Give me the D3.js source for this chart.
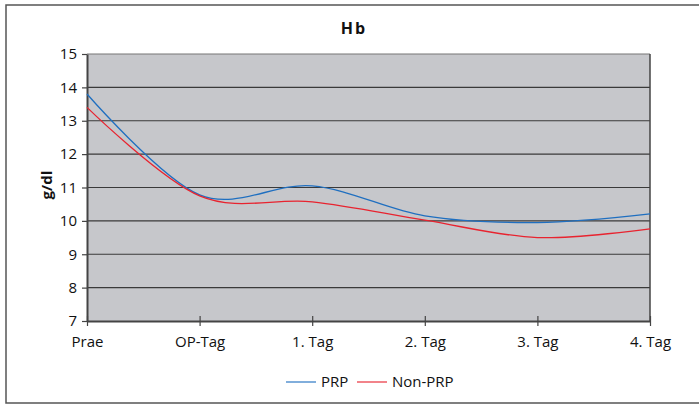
<!DOCTYPE html>
<html>
<head>
<meta charset="utf-8">
<script src="https://cdn.jsdelivr.net/npm/d3@7"></script>
<style>
  body { margin: 0; background: #fff; }
  svg { display: block; font-family: "Open Sans", sans-serif; }
</style>
</head>
<body>
<svg id="chart" width="699" height="405"></svg>
<script>
/* Hb chart */

const categories = ["Prae", "OP-Tag", "1. Tag", "2. Tag", "3. Tag", "4. Tag"];
const prpValues = [13.8, 10.78, 11.05, 10.15, 9.95, 10.21];
const nonPrpValues = [13.4, 10.75, 10.57, 10.02, 9.5, 9.76];
const yTicks = [7, 8, 9, 10, 11, 12, 13, 14, 15];

const series = [
	{ name: "PRP", values: prpValues, color: "#1f6fc0" },
	{ name: "Non-PRP", values: nonPrpValues, color: "#e8232f" }
];

const svg = d3.select("#chart");

// Rahmen (rechte Kante liegt außerhalb)
svg.append("rect")
	.attr("x", 6).attr("y", 5)
	.attr("width", 720).attr("height", 398)
	.attr("fill", "none")
	.attr("stroke", "#555")
	.attr("stroke-width", 1.5);

const plot = { left: 87, right: 650, top: 54, bottom: 321 };

const x = d3.scalePoint().domain(categories).range([plot.left, plot.right]);
const y = d3.scaleLinear().domain([7, 15]).range([plot.bottom, plot.top]);

// Hintergrund
svg.append("rect")
	.attr("x", plot.left).attr("y", plot.top)
	.attr("width", plot.right - plot.left).attr("height", plot.bottom - plot.top)
	.attr("fill", "#c6c7cb");

// Gitterlinien
svg.append("g").selectAll("line").data(yTicks.slice(1)).enter()
	.append("line")
	.attr("x1", plot.left).attr("x2", plot.right)
	.attr("y1", d => y(d)).attr("y2", d => y(d))
	.attr("stroke", d => d === 15 ? "#777" : "#3a3a3a")
	.attr("stroke-width", 1.2);

// rechte Kante
svg.append("line")
	.attr("x1", plot.right).attr("x2", plot.right)
	.attr("y1", plot.top).attr("y2", plot.bottom)
	.attr("stroke", "#444").attr("stroke-width", 1.5);

// Y-Achse
const yAxis = svg.append("g")
	.attr("transform", `translate(${plot.left},0)`)
	.call(d3.axisLeft(y).tickValues(yTicks).tickSize(5).tickPadding(5).tickSizeOuter(0));
yAxis.select(".domain").attr("stroke", "#444").attr("stroke-width", 2);
yAxis.selectAll(".tick line").attr("stroke", "#444").attr("stroke-width", 1.2);
yAxis.selectAll("text").attr("font-size", "15px").attr("fill", "#111")
	.attr("font-family", "Open Sans, sans-serif");

// X-Achse
const xAxis = svg.append("g")
	.attr("transform", `translate(0,${plot.bottom})`)
	.call(d3.axisBottom(x).tickSize(5).tickPadding(10).tickSizeOuter(0));
xAxis.select(".domain").attr("stroke", "#444").attr("stroke-width", 2);
xAxis.selectAll(".tick line").attr("y1", -5).attr("stroke", "#444").attr("stroke-width", 1.2);
xAxis.selectAll("text").attr("font-size", "15px").attr("fill", "#111")
	.attr("font-family", "Open Sans, sans-serif");

// Linien
const line = d3.line()
	.x((d, i) => x(categories[i]))
	.y(d => y(d))
	.curve(d3.curveCardinal.tension(0));

svg.append("g").selectAll("path").data(series).enter()
	.append("path")
	.attr("d", d => line(d.values))
	.attr("fill", "none")
	.attr("stroke", d => d.color)
	.attr("stroke-width", 1.3);

// Titel
svg.append("text")
	.attr("x", 354).attr("y", 34)
	.attr("text-anchor", "middle")
	.attr("font-size", "16px")
	.attr("font-weight", "bold")
	.attr("letter-spacing", "2px")
	.attr("fill", "#111")
	.text("Hb");

// Y-Achsentitel
svg.append("text")
	.attr("transform", "translate(52,185) rotate(-90)")
	.attr("text-anchor", "middle")
	.attr("font-size", "15px")
	.attr("font-weight", "bold")
	.attr("fill", "#111")
	.text("g/dl");

// Legende
const legend = svg.append("g").selectAll("g").data(series).enter()
	.append("g")
	.attr("transform", (d, i) => `translate(${i === 0 ? 286 : 357},382)`);
legend.append("line")
	.attr("x1", 0).attr("x2", 30)
	.attr("stroke", d => d.color)
	.attr("stroke-width", 1.5)
	.attr("stroke-opacity", 0.75);
legend.append("text")
	.attr("x", 35).attr("y", 5)
	.attr("font-size", "15px")
	.attr("fill", "#111")
	.text(d => d.name);
</script>
</body>
</html>
